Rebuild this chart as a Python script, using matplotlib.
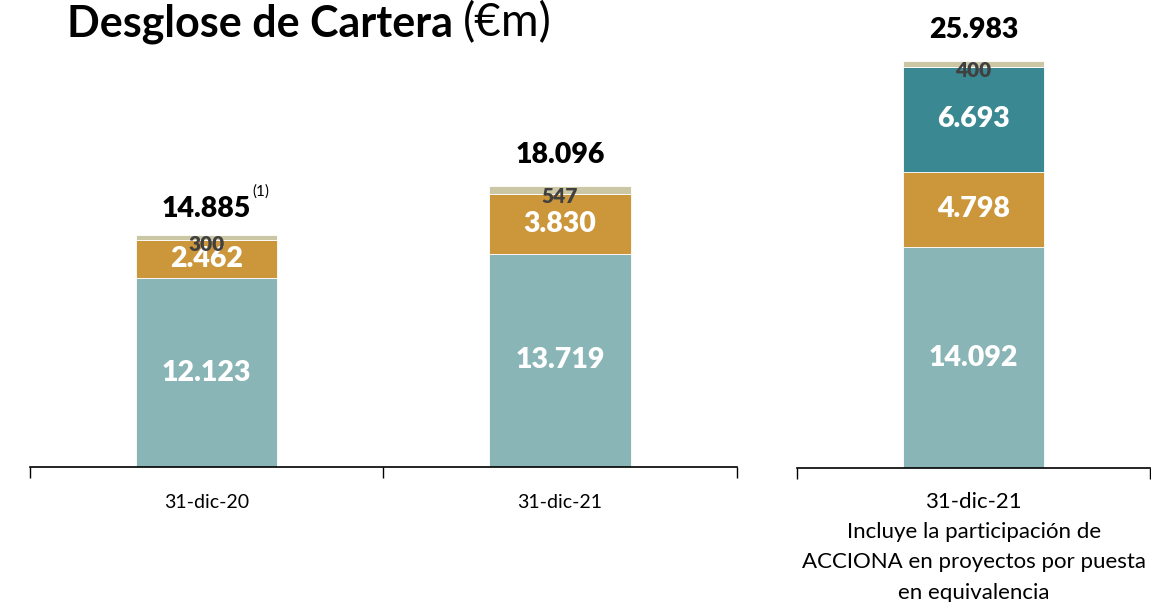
import matplotlib.pyplot as plt

plt.rcParams['font.family'] = ['Lato', 'DejaVu Sans']

# data
left_dates = ['31-dic-20', '31-dic-21']
left_base = [12123, 13719]
left_mid = [2462, 3830]
left_top = [300, 547]
left_totals = ['14.885', '18.096']

right_date = ['31-dic-21\nIncluye la participación de\nACCIONA en proyectos por puesta\nen equivalencia']
right_base = [14092]
right_mid = [4798]
right_eq = [6693]
right_top = [400]
right_totals = ['25.983']

c_base = '#8AB5B6'
c_mid = '#CC963A'
c_eq = '#3A8891'
c_top = '#CBC6A4'

bw = 0.40


def fmt(v):
    return '{:,}'.format(v).replace(',', '.')


def seg_label(ax, x, bottom, h, big=True):
    if big:
        ax.text(x, bottom + h / 2, fmt(h), ha='center', va='center',
                color='white', fontsize=20.5, fontweight='heavy')
    else:
        ax.annotate(fmt(h), (x, bottom + h / 2), xytext=(0, -5),
                    textcoords='offset points', ha='center', va='center',
                    color='#404040', fontsize=15, fontweight='heavy')


def style(ax, n, labels, ymax, fs, pad):
    ax.set_xlim(-0.5, n - 0.5)
    ax.set_ylim(0, ymax)
    for s in ['top', 'right', 'left']:
        ax.spines[s].set_visible(False)
    ax.spines['bottom'].set_linewidth(1.2)
    ax.set_yticks([])
    ax.set_xticks([i - 0.5 for i in range(n + 1)])
    ax.set_xticklabels([])
    ax.tick_params(axis='x', which='major', direction='out', length=8, width=1)
    ax.set_xticks(range(n), minor=True)
    ax.set_xticklabels(labels, minor=True, fontsize=fs, linespacing=1.65, va='top')
    ax.tick_params(axis='x', which='minor', length=0, pad=pad)


fig = plt.figure(figsize=(11.51, 6.02), dpi=100)
ax1 = fig.add_axes([0.026, 0.224, 0.614, 0.698])
ax2 = fig.add_axes([0.6925, 0.2226, 0.3067, 0.698])

# left chart
x = list(range(len(left_dates)))
ax1.bar(x, left_base, bw, color=c_base, edgecolor='white', linewidth=0.6)
b2 = [a for a in left_base]
ax1.bar(x, left_mid, bw, bottom=b2, color=c_mid, edgecolor='white', linewidth=0.6)
b3 = [a + b for a, b in zip(left_base, left_mid)]
ax1.bar(x, left_top, bw, bottom=b3, color=c_top, edgecolor='white', linewidth=0.6)
tot_txt = []
for i in x:
    seg_label(ax1, i, 0, left_base[i])
    seg_label(ax1, i, b2[i], left_mid[i])
    seg_label(ax1, i, b3[i], left_top[i], big=False)
    tot = b3[i] + left_top[i]
    t = ax1.annotate(left_totals[i], (i, tot), xytext=(0, 19 if i == 0 else 22),
                     textcoords='offset points', ha='center', va='center',
                     fontsize=20.5, fontweight='heavy', color='black')
    tot_txt.append(t)
ax1.annotate('(1)', xy=(1, 1), xycoords=tot_txt[0], xytext=(1, 3),
             textcoords='offset points', ha='left', va='center', fontsize=11, color='black')
style(ax1, len(left_dates), left_dates, 27000, 14, 19)

# right chart
ax2.bar([0], right_base, bw, color=c_base, edgecolor='white', linewidth=0.6)
ax2.bar([0], right_mid, bw, bottom=right_base, color=c_mid, edgecolor='white', linewidth=0.6)
rb3 = right_base[0] + right_mid[0]
ax2.bar([0], right_eq, bw, bottom=rb3, color=c_eq, edgecolor='white', linewidth=0.6)
rb4 = rb3 + right_eq[0]
ax2.bar([0], right_top, bw, bottom=rb4, color=c_top, edgecolor='white', linewidth=0.6)
seg_label(ax2, 0, 0, right_base[0])
seg_label(ax2, 0, right_base[0], right_mid[0])
seg_label(ax2, 0, rb3, right_eq[0])
seg_label(ax2, 0, rb4, right_top[0], big=False)
ax2.annotate(right_totals[0], (0, rb4 + right_top[0]), xytext=(0, 22), textcoords='offset points',
             ha='center', va='center', fontsize=20.5, fontweight='heavy', color='black')
style(ax2, 1, right_date, 26800, 16, 17)
ax2.spines['bottom'].set_clip_on(False)

# title
t1 = fig.text(0.058, 0.94, 'Desglose de Cartera', fontsize=31, fontweight='bold', va='baseline')
fig.canvas.draw()
bb = t1.get_window_extent()
fig.text(bb.x1 / fig.bbox.width + 0.009, 0.94, '(€m)', fontsize=33, va='baseline')

fig.savefig('out.png', dpi=100)
